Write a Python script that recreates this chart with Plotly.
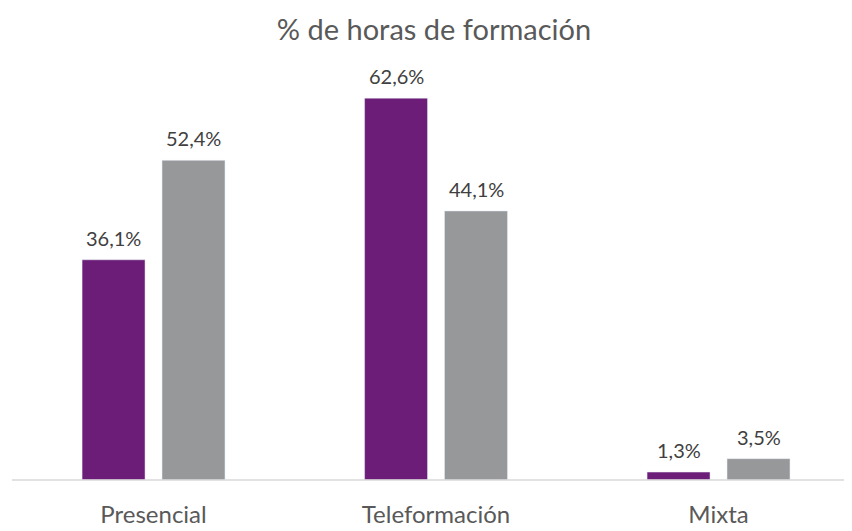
import plotly.graph_objects as go

categories = ['Presencial', 'Teleformación', 'Mixta']
serie_a = [36.1, 62.6, 1.3]
serie_b = [52.4, 44.1, 3.5]


def fmt(v):
    return f"{v:.1f}".replace('.', ',') + '%'


fig = go.Figure()
fig.add_trace(go.Bar(x=categories, y=serie_a, marker=dict(color='#6C1D78')))
fig.add_trace(go.Bar(x=categories, y=serie_b, marker=dict(color='#97989A')))

# data labels above each bar (bar centres are +-40 px from the category centre)
for vals, shift in [(serie_a, -40), (serie_b, 40)]:
    for cat, v in zip(categories, vals):
        fig.add_annotation(x=cat, y=v, text=fmt(v), showarrow=False,
                           xshift=shift, yshift=22, yanchor='middle',
                           font=dict(size=20, color='#404040'))

# baseline runs out to the right edge of the chart
fig.add_shape(type='line', xref='paper', yref='paper', x0=0, x1=1.0145,
              y0=0, y1=0, line=dict(color='#D9D9D9', width=1.5))

fig.update_layout(
    width=852, height=531,
    paper_bgcolor='white', plot_bgcolor='white',
    showlegend=False,
    barmode='group',
    bargap=0.434,
    bargroupgap=0.2125,
    font=dict(family='Lato, Open Sans, sans-serif', color='#595959'),
    title=dict(text='% de horas de formación', x=0.5, xanchor='center',
               y=0.9586, yanchor='middle',
               font=dict(size=29, color='#595959')),
    margin=dict(l=4, r=20, t=52, b=59),
    xaxis=dict(range=[-0.501, 2.43], showline=False,
               ticks='', tickfont=dict(size=24, color='#595959'),
               ticklabelstandoff=18, showgrid=False, zeroline=False),
    yaxis=dict(range=[0, 68.85], visible=False, showgrid=False),
)

fig.write_html("out.html")
